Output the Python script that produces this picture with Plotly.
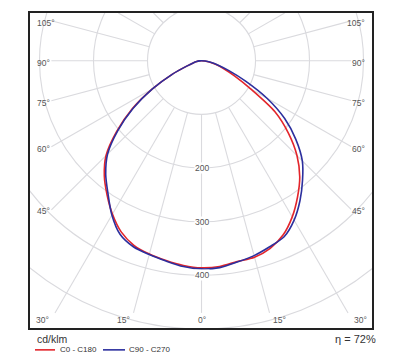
import numpy as np
import plotly.graph_objects as go

# ---------------- data ----------------
gamma_deg = [-90, -85, -80, -75, -70, -65, -60, -55, -50, -45, -40, -35, -30, -25, -20, -15, -10, -5,
             0, 5, 10, 15, 20, 25, 30, 35, 40, 45, 50, 55, 60, 65, 70, 75, 80, 85, 90]
c0_c180 = [0, 4, 9, 16, 28, 60, 105, 157, 205, 250, 280, 305, 330, 352, 366, 373, 378, 383,
           386, 385, 380, 379, 372, 358, 336, 310, 283, 250, 210, 166, 105, 68, 44, 28, 15, 6, 0]
c90_c270 = [0, 4, 9, 16, 28, 60, 105, 155, 202, 246, 276, 302, 332, 357, 369, 374, 379, 385,
            388, 387, 381, 376, 369, 362, 343, 318, 291, 264, 228, 188, 140, 90, 54, 32, 17, 7, 0]
ring_values = [100, 200, 300, 400, 500]
ring_labels = [200, 300, 400]
side_ticks = [45, 60, 75, 90, 105]
bottom_ticks = [0, 15, 30]
series_names = ["C0 - C180", "C90 - C270"]
efficiency = "η = 72%"
unit = "cd/klm"

# ---------------- style / geometry ----------------
RED = "#e3252b"
BLUE = "#2c2f9e"
GRID = "#dadade"
TXT = "#555555"
FONT = "Liberation Sans"
XMIN, XMAX, YMIN, YMAX = -317.6, 315.7, -498.1, 88.9
SP_XL, SP_XR, SP_YB, SP_YT = -278.0, 277.0, -470.0, 88.9
YLAB = -483.0
XLAB_L, XLAB_R = -308.3, 306.5


def polar_xy(gam, vals):
    g = np.radians(np.asarray(gam, dtype=float))
    r = np.asarray(vals, dtype=float)
    return r * np.sin(g), -r * np.cos(g)


fig = go.Figure()

# spokes every 15 degrees, from the first ring outward
for a in range(0, 360, 15):
    dx, dy = np.sin(np.radians(a)), -np.cos(np.radians(a))
    ts = []
    if dx > 1e-9:
        ts.append(SP_XR / dx)
    if dx < -1e-9:
        ts.append(SP_XL / dx)
    if dy < -1e-9:
        ts.append(SP_YB / dy)
    if dy > 1e-9:
        ts.append(SP_YT / dy)
    t = min(ts)
    r0 = ring_values[0]
    if t > r0:
        fig.add_trace(go.Scatter(x=[r0 * dx, t * dx], y=[r0 * dy, t * dy], mode="lines",
                                 line=dict(color=GRID, width=1.1), hoverinfo="skip", showlegend=False))

# rings
for rv in ring_values:
    fig.add_shape(type="circle", xref="x", yref="y", x0=-rv, x1=rv, y0=-rv, y1=rv,
                  line=dict(color=GRID, width=1.1), layer="below")

# curves
for vals, col, name in [(c0_c180, RED, series_names[0]), (c90_c270, BLUE, series_names[1])]:
    x, y = polar_xy(gamma_deg, vals)
    fig.add_trace(go.Scatter(x=x, y=y, mode="lines", name=name,
                             line=dict(color=col, width=1.6, shape="spline", smoothing=0.8),
                             showlegend=False))

# ring labels
for rv in ring_labels:
    fig.add_annotation(x=0, y=-rv, text=str(rv), showarrow=False, xref="x", yref="y",
                       font=dict(family=FONT, size=8.5, color=TXT), bgcolor="white", borderpad=0)

# side angle labels
for a in side_ticks:
    ang = np.radians(a)
    yy = SP_XR * (-np.cos(ang)) / np.sin(ang)
    fig.add_annotation(x=XLAB_L, y=yy, text=f"{a}°", showarrow=False, xanchor="left",
                       yshift=-2, font=dict(family=FONT, size=8.5, color=TXT))
    fig.add_annotation(x=XLAB_R, y=yy, text=f"{a}°", showarrow=False, xanchor="right",
                       yshift=-2, font=dict(family=FONT, size=8.5, color=TXT))

# bottom angle labels
for a in bottom_ticks:
    ang = np.radians(a)
    xx = -YLAB * np.tan(ang)
    if a == 0:
        fig.add_annotation(x=0, y=YLAB, text=f"{a}°", showarrow=False, xanchor="center",
                           font=dict(family=FONT, size=8.5, color=TXT))
    else:
        fig.add_annotation(x=-xx, y=YLAB, text=f"{a}°", showarrow=False, xanchor="right",
                           font=dict(family=FONT, size=8.5, color=TXT))
        fig.add_annotation(x=xx, y=YLAB, text=f"{a}°", showarrow=False, xanchor="left",
                           font=dict(family=FONT, size=8.5, color=TXT))

# legend / footer texts (paper coordinates)
def px(xp):
    return (xp - 30) / 342.0


def py(yp):
    return (328 - yp) / 317.0


fig.add_annotation(x=px(35), y=py(339), xref="paper", yref="paper", text=unit, showarrow=False,
                   xanchor="left", yanchor="middle", font=dict(family=FONT, size=10.5, color="#333"))
fig.add_annotation(x=px(378), y=py(339), xref="paper", yref="paper", text=efficiency, showarrow=False,
                   xanchor="right", yanchor="middle", font=dict(family=FONT, size=11, color="#333"))
fig.add_shape(type="line", xref="paper", yref="paper", x0=px(35), x1=px(55), y0=py(350), y1=py(350),
              line=dict(color=RED, width=1.6))
fig.add_shape(type="line", xref="paper", yref="paper", x0=px(103), x1=px(125), y0=py(350), y1=py(350),
              line=dict(color=BLUE, width=1.6))
fig.add_annotation(x=px(58), y=py(350), xref="paper", yref="paper", text=series_names[0], showarrow=False,
                   xanchor="left", yanchor="middle", font=dict(family=FONT, size=8, color="#333"))
fig.add_annotation(x=px(127), y=py(350), xref="paper", yref="paper", text=series_names[1], showarrow=False,
                   xanchor="left", yanchor="middle", font=dict(family=FONT, size=8, color="#333"))

axis_common = dict(showgrid=False, zeroline=False, showticklabels=False, ticks="",
                   showline=True, mirror=True, linecolor="#222", linewidth=2, fixedrange=True)
fig.update_xaxes(range=[XMIN, XMAX], **axis_common)
fig.update_yaxes(range=[YMIN, YMAX], **axis_common)
fig.update_layout(width=400, height=354, margin=dict(l=30, r=28, t=11, b=26),
                  plot_bgcolor="white", paper_bgcolor="white", showlegend=False)

fig.write_html("out.html")
